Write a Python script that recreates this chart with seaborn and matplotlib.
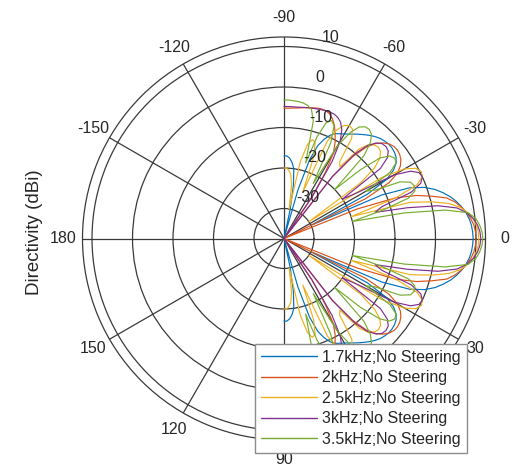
import numpy as np
import pandas as pd
import matplotlib
matplotlib.use("Agg")
import matplotlib.pyplot as plt
import seaborn as sns
from matplotlib.transforms import ScaledTranslation
from matplotlib.lines import Line2D

# ---------------- data (symmetric about 0 deg) ----------------
angles_half = list(range(0, 91, 2))  # elevation magnitude, degrees

series_names = ["1.7kHz;No Steering", "2kHz;No Steering", "2.5kHz;No Steering",
                "3kHz;No Steering", "3.5kHz;No Steering"]
series_colors = ["#0072BD", "#D95319", "#EDB120", "#7E2F8E", "#77AC30"]

d_17k = [9.3, 9.2, 9.0, 8.6, 8.0, 7.2, 6.2, 5.0, 3.5, 1.8, -0.5, -4.0, -11.0, -30.0,
         -14.0, -8.0, -5.5, -4.0, -3.2, -2.8, -2.6, -2.6, -2.8, -3.1, -3.6, -4.2, -4.9, -5.6,
         -6.3, -7.0, -7.6, -8.1, -8.6, -9.5, -11.0, -13.0, -17.0, -25.0, -40.0,
         -30.0, -24.0, -20.0, -18.5, -17.5, -17.0, -17.0]
d_2k = [10.0, 9.9, 9.6, 9.0, 8.2, 7.1, 5.8, 4.0, 0.5, -3.0, -8.0, -18.0, -40.0,
        -15.0, -8.0, -5.0, -3.5, -2.6, -2.1, -1.9, -2.0, -2.5, -3.4, -4.8, -7.0, -11.0, -18.0, -40.0,
        -25.0, -18.0, -13.0, -10.5, -8.6, -6.8, -5.5, -4.6, -4.2, -4.1, -4.2, -4.4, -4.6, -4.8,
        -5.0, -5.1, -5.2, -5.2]
d_25k = [10.7, 10.6, 10.2, 9.5, 8.4, 6.8, 4.2, 0.0, -5.0, -20.0,
         -8.0, -2.0, 0.0, 0.3, -0.5, -3.0, -9.0, -30.0,
         -14.0, -9.0, -6.5, -5.3, -5.0, -5.3, -6.2, -8.5, -15.0,
         -14.0, -7.5, -5.5, -5.2, -5.8, -7.5, -11.0, -25.0,
         -16.0, -12.5, -12.0, -13.5, -18.0, -30.0,
         -24.0, -21.5, -20.5, -20.0, -20.0]
d_3k = [11.2, 11.0, 10.5, 9.6, 8.2, 6.0, 1.5, -6.0, -14.0,
        -12.0, -4.0, -1.0, 0.0, -0.3, -2.0, -6.0, -16.0, -20.0,
        -8.0, -5.0, -3.8, -3.5, -3.7, -4.6, -6.5, -10.0, -18.0, -40.0,
        -25.0, -15.0, -9.6, -7.0, -5.5, -4.7, -4.3, -4.2, -4.2, -4.3, -4.4, -4.5, -4.6, -4.7,
        -4.8, -4.8, -4.8, -4.8]
d_35k = [11.7, 11.5, 11.0, 10.2, 8.5, 3.0, -7.0, -20.0,
         -12.0, -5.0, -3.0, -2.7, -3.2, -5.5, -12.0, -14.0,
         -6.5, -4.0, -3.6, -4.3, -6.5, -12.0, -20.0,
         -9.0, -5.5, -3.8, -3.2, -3.3, -4.2, -6.5, -11.0, -22.0,
         -11.0, -7.0, -6.0, -7.0, -11.0, -18.0,
         -7.5, -4.8, -4.0, -3.6, -3.4, -3.3, -3.2, -3.2]

angle_ticks = [0, 30, 60, 90, 120, 150, 180, 210, 240, 270, 300, 330]
angle_tick_labels = ["0", "30", "60", "90", "120", "150", "180", "-150", "-120", "-90", "-60", "-30"]
r_ticks = [-30, -20, -10, 0, 10]
r_tick_labels = ["-30", "-20", "-10", "0", "10"]
r_min, r_max = -37.4, 12.35

# ---------------- build long table ----------------
rows = []
a = np.array(angles_half, dtype=float)
for name, vals in zip(series_names, [d_17k, d_2k, d_25k, d_3k, d_35k]):
    v = np.array(vals, dtype=float)
    th = np.concatenate([-a[::-1], a[1:]])
    vv = np.concatenate([v[::-1], v[1:]])
    for t, val in zip(th, vv):
        rows.append({"theta": np.deg2rad(t), "dB": max(val, r_min), "series": name})
df = pd.DataFrame(rows)

# ---------------- style ----------------
sns.set_theme(style="white")
plt.rcParams["font.family"] = ["Liberation Sans", "DejaVu Sans"]
txt_col = "#262626"

W, H = 515, 466
fig = plt.figure(figsize=(W / 100, H / 100), dpi=100)
cx, cy, R = 284.0, 238.5, 201.5
ax = fig.add_axes([(cx - R) / W, (H - cy - R) / H, 2 * R / W, 2 * R / H], projection="polar")
ax.set_facecolor("white")
ax.set_theta_zero_location("E")
ax.set_theta_direction(-1)

sns.lineplot(data=df, x="theta", y="dB", hue="series", hue_order=series_names,
             palette=series_colors, estimator=None, sort=False, linewidth=0.85,
             ax=ax, legend=False)

ax.set_ylim(r_min, r_max)
ax.set_yticks(r_ticks)
ax.set_yticklabels([])
ax.set_xticks(np.deg2rad(angle_ticks))
ax.set_xticklabels([])
ax.grid(True, color="#3a3a3a", linewidth=0.9)
ax.spines["polar"].set_color("#3a3a3a")
ax.spines["polar"].set_linewidth(0.9)
ax.set_xlabel("")
ax.set_ylabel("")

# angle labels, centred a fixed distance outside the rim
gap = 19.0
for tdeg, lab in zip(angle_ticks, angle_tick_labels):
    t = np.deg2rad(tdeg)
    o = ScaledTranslation(gap * np.cos(t) / 100, -gap * np.sin(t) / 100, fig.dpi_scale_trans)
    ax.text(t, r_max, lab, ha="center", va="center", fontsize=11.5, color=txt_col,
            transform=ax.transData + o, clip_on=False)

# radial labels
off = ScaledTranslation(8 / 100, 7 / 100, fig.dpi_scale_trans)
for rv, lab in zip(r_ticks, r_tick_labels):
    ax.text(np.deg2rad(-81), rv, lab, ha="left", va="baseline", fontsize=11.5,
            color=txt_col, transform=ax.transData + off)

fig.text(34.5 / W, 1 - 232 / H, "Directivity (dBi)", rotation=90, ha="center", va="center",
         fontsize=13.5, color=txt_col)

handles = [Line2D([0], [0], color=c, lw=1.0) for c in series_colors]
leg = fig.legend(handles, series_names, loc="lower right", bbox_to_anchor=(467 / W, 13 / H),
                 fontsize=11.5, frameon=True, fancybox=False, edgecolor="#8c8c8c",
                 framealpha=1.0, borderpad=0.4, handlelength=3.5, handletextpad=0.3,
                 labelspacing=0.34, borderaxespad=0.0)
leg.get_frame().set_linewidth(1.0)
for t in leg.get_texts():
    t.set_color(txt_col)

fig.savefig("out.png", dpi=100)
